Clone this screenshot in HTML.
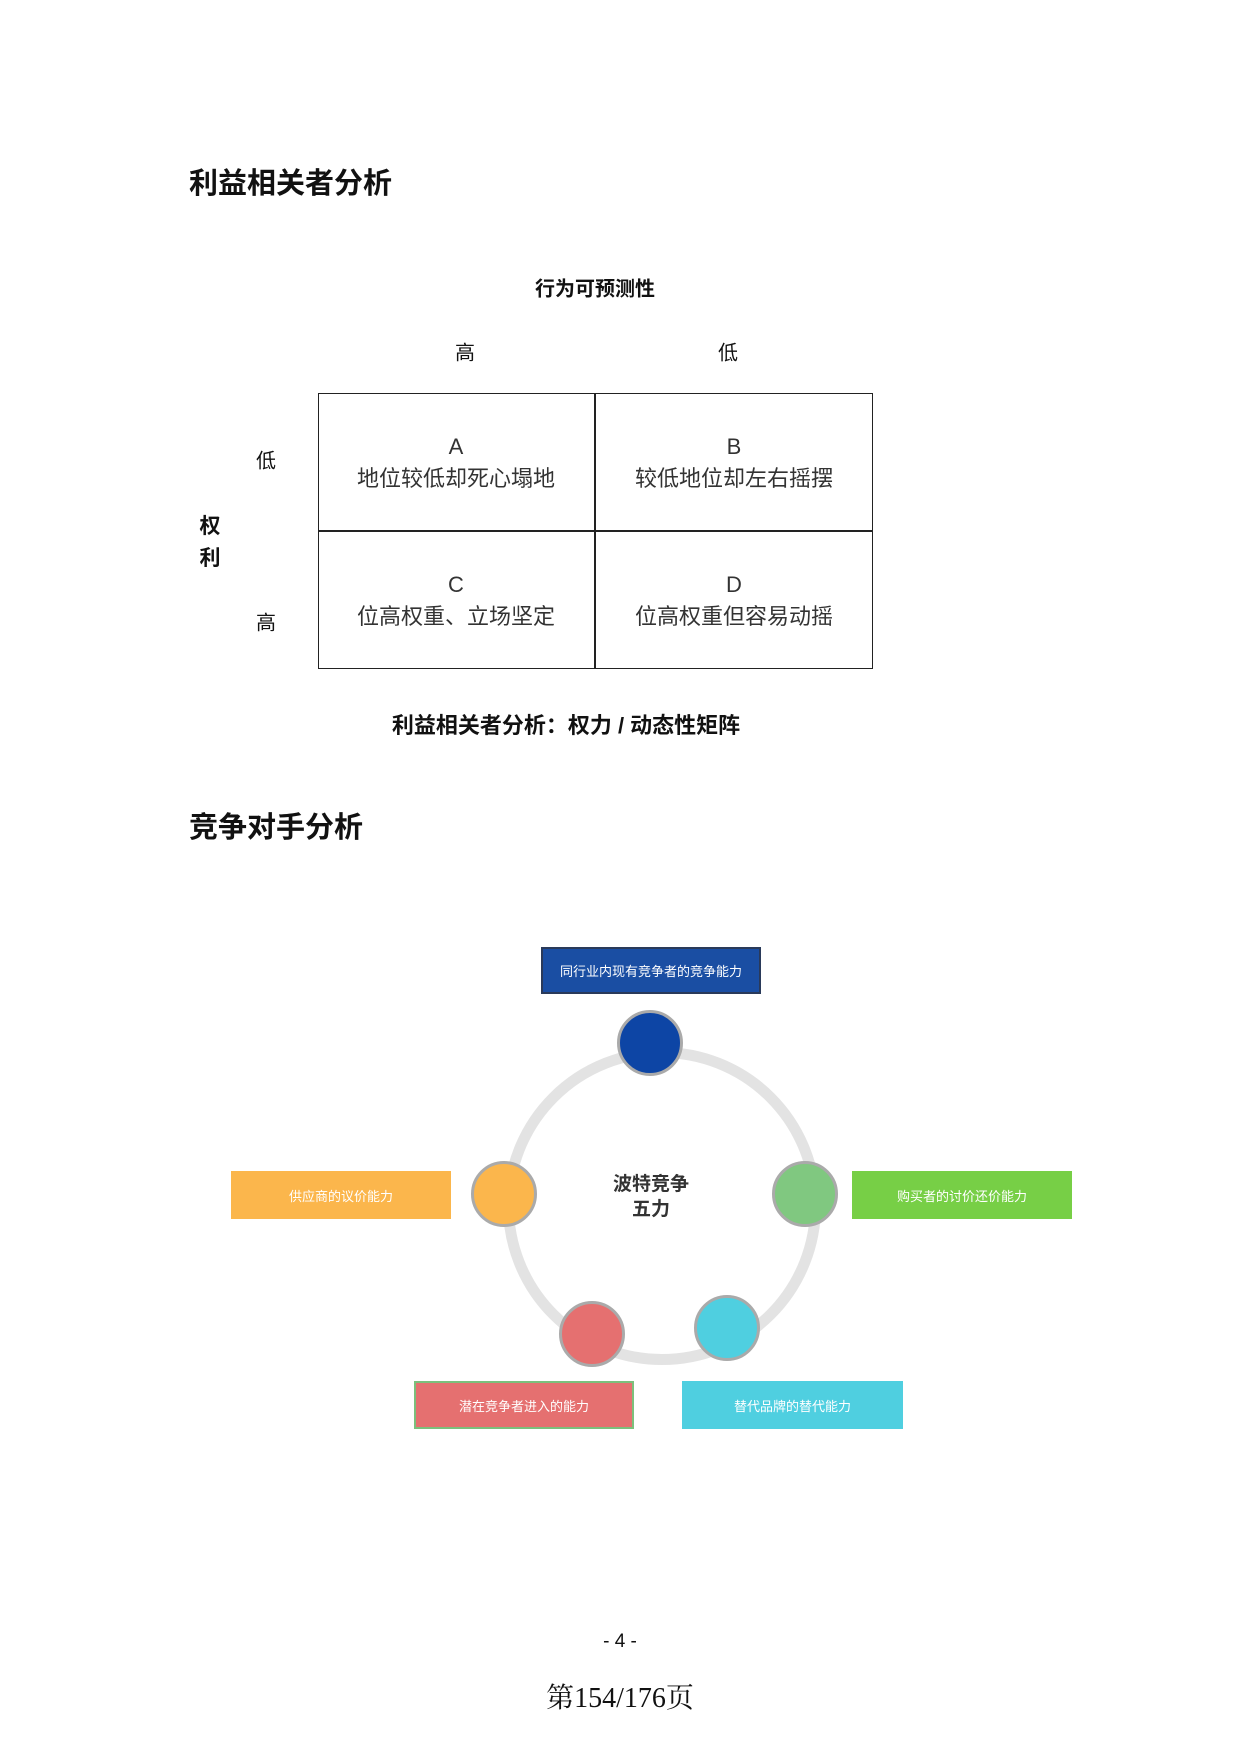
<!DOCTYPE html>
<html><head><meta charset="utf-8"><style>
body{margin:0;width:1240px;height:1753px;background:#fff;position:relative;font-family:"Liberation Sans","Noto Sans CJK SC",sans-serif;color:#111;overflow:hidden}
.a{position:absolute;white-space:nowrap}
.c{transform:translate(-50%,-50%)}
.h{font-size:29px;font-weight:bold}
.cell{font-size:22px;color:#333;text-align:center;line-height:32px}
.box{position:absolute;color:#fff;font-size:13px;display:flex;align-items:center;justify-content:center;box-sizing:border-box}
.dot{position:absolute;width:66px;height:66px;border-radius:50%;border:3px solid #aaa;box-sizing:border-box;transform:translate(-50%,-50%)}
</style></head><body>
<div class="a h" style="left:189px;top:160px">利益相关者分析</div>
<div class="a c" style="left:595px;top:287px;font-size:20px;font-weight:bold">行为可预测性</div>
<div class="a c" style="left:465px;top:351px;font-size:20px">高</div>
<div class="a c" style="left:728px;top:351px;font-size:20px">低</div>
<div class="a c" style="left:266px;top:459px;font-size:20px">低</div>
<div class="a c" style="left:266px;top:621px;font-size:20px">高</div>
<div class="a c" style="left:210px;top:525px;font-size:21px;font-weight:bold">权</div>
<div class="a c" style="left:210px;top:557px;font-size:21px;font-weight:bold">利</div>
<div class="a" style="left:318px;top:393px;width:555px;height:276px;border:1.5px solid #222;box-sizing:border-box"></div>
<div class="a" style="left:594px;top:393px;width:1.5px;height:276px;background:#222"></div>
<div class="a" style="left:318px;top:530px;width:555px;height:1.5px;background:#222"></div>
<div class="a c cell" style="left:456px;top:463px">A<br>地位较低却死心塌地</div>
<div class="a c cell" style="left:734px;top:463px">B<br>较低地位却左右摇摆</div>
<div class="a c cell" style="left:456px;top:601px">C<br>位高权重、立场坚定</div>
<div class="a c cell" style="left:734px;top:601px">D<br>位高权重但容易动摇</div>
<div class="a c" style="left:566px;top:724px;font-size:22px;font-weight:bold">利益相关者分析：权力 / 动态性矩阵</div>
<div class="a h" style="left:189px;top:804px">竞争对手分析</div>
<div class="a" style="left:503px;top:1047px;width:296px;height:296px;border:11px solid #e3e3e3;border-radius:50%"></div>
<div class="a c" style="left:651px;top:1197px;font-size:19px;font-weight:bold;text-align:center;line-height:25px;color:#333">波特竞争<br>五力</div>
<div class="box" style="left:541px;top:947px;width:220px;height:47px;background:#1a4ea3;border:2px solid #2a3a5a">同行业内现有竞争者的竞争能力</div>
<div class="box" style="left:231px;top:1171px;width:220px;height:48px;background:#fbb64c">供应商的议价能力</div>
<div class="box" style="left:852px;top:1171px;width:220px;height:48px;background:#77cf46">购买者的讨价还价能力</div>
<div class="box" style="left:414px;top:1381px;width:220px;height:48px;background:#e57070;border:2px solid #7cc07c">潜在竞争者进入的能力</div>
<div class="box" style="left:682px;top:1381px;width:221px;height:48px;background:#4fcfe0">替代品牌的替代能力</div>
<div class="dot" style="left:650px;top:1043px;background:#0d45a5"></div>
<div class="dot" style="left:504px;top:1194px;background:#fbb64c"></div>
<div class="dot" style="left:805px;top:1194px;background:#80c880"></div>
<div class="dot" style="left:592px;top:1334px;background:#e57070"></div>
<div class="dot" style="left:727px;top:1328px;background:#4fcfe0"></div>
<div class="a c" style="left:620px;top:1642px;font-size:19px">- 4 -</div>
<div class="a c" style="left:620px;top:1696px;font-size:28px;font-family:'Liberation Serif','Noto Serif CJK SC',serif">第154/176页</div>
</body></html>
